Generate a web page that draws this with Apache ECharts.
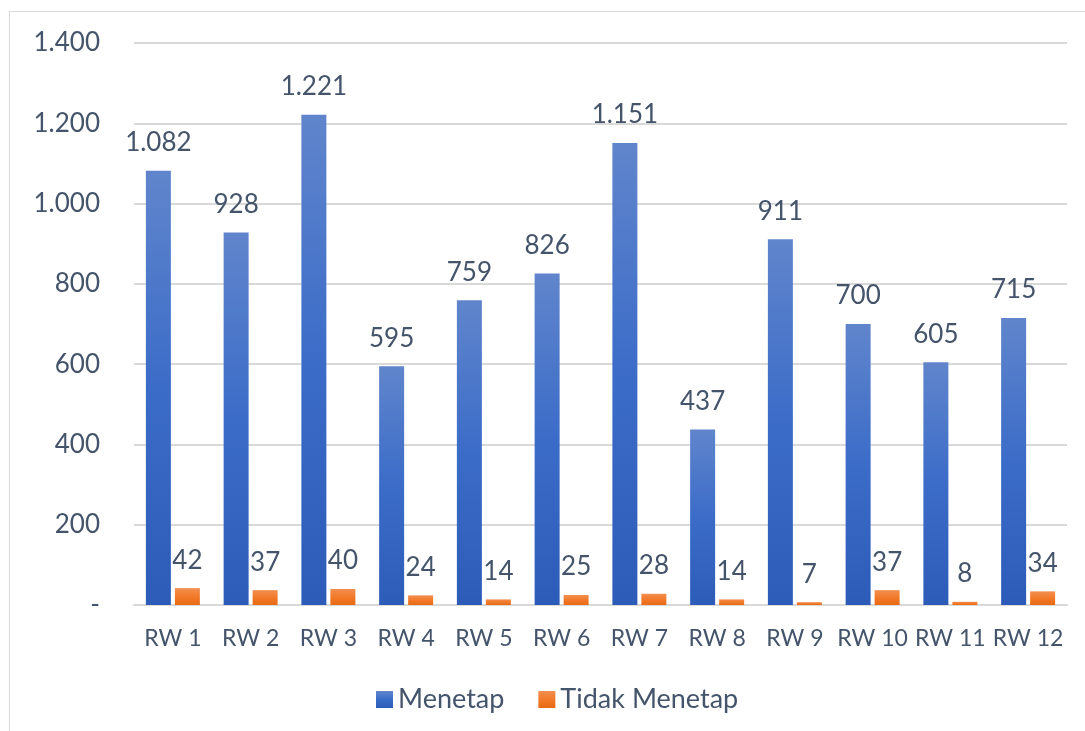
<!DOCTYPE html>
<html lang="id">
<head>
    <meta charset="UTF-8">
    <title>Menetap / Tidak Menetap per RW</title>
    <script src="https://cdn.jsdelivr.net/npm/echarts@6/dist/echarts.min.js"></script>
    <style>
        body { margin: 0; background: #fff; }
        #frame { position: absolute; left: 9px; top: 11px; width: 1090px; height: 730px; border: 1.5px solid #d9d9d9; box-sizing: border-box; }
        #main { position: absolute; left: 0; top: 0; width: 1085px; height: 731px; }
    </style>
</head>
<body>
    <div id="frame"></div>
    <div id="main"></div>

    <script type="text/javascript">
        // data
        var categories = ['RW 1', 'RW 2', 'RW 3', 'RW 4', 'RW 5', 'RW 6', 'RW 7', 'RW 8', 'RW 9', 'RW 10', 'RW 11', 'RW 12'];
        var menetap = [1082, 928, 1221, 595, 759, 826, 1151, 437, 911, 700, 605, 715];
        var tidakMenetap = [42, 37, 40, 24, 14, 25, 28, 14, 7, 37, 8, 34];

        var textColor = '#44546a';
        var font = 'Lato, "Open Sans", sans-serif';

        // angka dengan titik sebagai pemisah ribuan, nol jadi "-"
        function fmt(v) {
            if (v === 0) return '-';
            return String(v).replace(/\B(?=(\d{3})+(?!\d))/g, '.');
        }

        var blue = new echarts.graphic.LinearGradient(0, 0, 0, 1, [
            { offset: 0, color: '#6085cc' },
            { offset: 0.5, color: '#3b6cc8' },
            { offset: 1, color: '#2c5cb8' }
        ]);
        var orange = new echarts.graphic.LinearGradient(0, 0, 0, 1, [
            { offset: 0, color: '#f28f50' },
            { offset: 0.5, color: '#f27a2a' },
            { offset: 1, color: '#e86a14' }
        ]);

        var myChart = echarts.init(document.getElementById('main'));

        var labelStyle = {
            show: true, position: 'top', distance: 15, color: textColor, fontSize: 26, fontFamily: font,
            formatter: function (p) { return fmt(p.value); }
        };

        var option = {
            animation: false,
            textStyle: { fontFamily: font },
            grid: { left: 134, right: 18, top: 43, bottom: 126 },
            legend: {
                bottom: 13,
                left: 371,
                itemWidth: 17,
                itemHeight: 17,
                itemGap: 34,
                icon: 'rect',
                textStyle: { color: textColor, fontSize: 27, fontFamily: font },
                data: ['Menetap', 'Tidak Menetap']
            },
            xAxis: {
                type: 'category',
                data: categories,
                axisTick: { show: false },
                axisLine: { lineStyle: { color: '#d9d9d9', width: 2 } },
                axisLabel: { interval: 0, color: textColor, fontSize: 23, margin: 22, fontFamily: font }
            },
            yAxis: {
                type: 'value',
                min: 0,
                max: 1400,
                interval: 200,
                axisLine: { show: false },
                axisTick: { show: false },
                splitLine: { lineStyle: { color: '#d9d9d9', width: 2 } },
                axisLabel: { color: textColor, fontSize: 26, margin: 34, fontFamily: font, formatter: fmt }
            },
            series: [{
                name: 'Menetap',
                type: 'bar',
                data: menetap,
                barWidth: 25,
                barGap: '16%',
                itemStyle: { color: blue },
                label: labelStyle
            }, {
                name: 'Tidak Menetap',
                type: 'bar',
                data: tidakMenetap,
                barWidth: 25,
                itemStyle: { color: orange },
                label: labelStyle
            }]
        };

        myChart.setOption(option);
    </script>
</body>
</html>
